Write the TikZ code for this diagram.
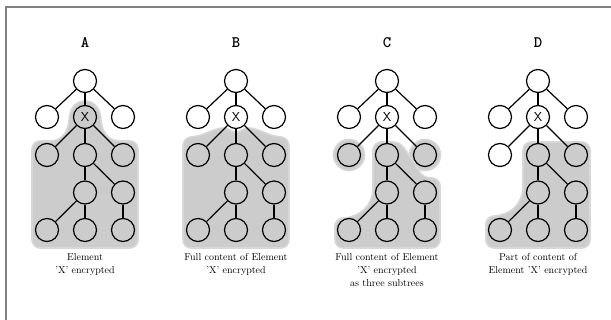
\documentclass[tikz,border=0pt]{standalone}
\usepackage{fontspec}
\begin{document}
\begin{tikzpicture}[x=1pt,y=-1pt,
  nd/.style={circle,draw=black,line width=1.2pt,minimum size=23pt,inner sep=0pt,fill=white,
    font=\sffamily\fontsize{13}{13}\selectfont},
  sh/.style={fill=none},
  link/.style={line width=1.2pt},
  shadebox/.style={fill=shadegray,draw=shaderim,line width=1.6pt},
  ttl/.style={font=\ttfamily\bfseries\fontsize{16}{16}\selectfont},
  captxt/.style={font=\fontsize{10}{13}\selectfont,align=center,anchor=north}]
\definecolor{shadegray}{RGB}{204,204,204}
\definecolor{shaderim}{RGB}{216,216,216}
\definecolor{framegray}{RGB}{128,128,128}
\useasboundingbox (0,0) rectangle (611,320);
\draw[framegray,line width=1.5pt] (6,320) -- (6,7) -- (611,7);

% ---- shaded regions ----
% A
\path[shadebox] (40,248) -- (130,248) .. controls (134.4,248) and (138,244.4) .. (138,240)
  -- (138,149) .. controls (138,144.6) and (134.4,141) .. (130,141) -- (120,141)
  .. controls (108,141) and (102,132) .. (101,120) .. controls (100.5,108) and (94,101) .. (85,101)
  .. controls (76,101) and (69.5,108) .. (69,120) .. controls (68,132) and (62,141) .. (50,141)
  -- (40,141) .. controls (35.6,141) and (32,144.6) .. (32,149) -- (32,240)
  .. controls (32,244.4) and (35.6,248) .. (40,248) -- cycle;
% B
\path[shadebox] (191,248) -- (281,248) .. controls (285.4,248) and (289,244.4) .. (289,240)
  -- (289,146) .. controls (289,141) and (286,138) .. (281,137)
  .. controls (268,136) and (258,128) .. (249,128) .. controls (243,128) and (241,132) .. (236,132)
  .. controls (231,132) and (229,128) .. (223,128) .. controls (214,128) and (204,136) .. (191,137)
  .. controls (186,138) and (183,141) .. (183,146) -- (183,240)
  .. controls (183,244.4) and (186.6,248) .. (191,248) -- cycle;
% C
\path[shadebox] (349,155) circle[radius=15.5];
\path[shadebox] (425,155) circle[radius=15.5];
\path[shadebox] (381,142) -- (393,142) .. controls (400,142) and (403,146) .. (407,152)
  -- (419,171) .. controls (422,176) and (426,178) .. (432,178)
  .. controls (436.4,178) and (440,181.6) .. (440,186) -- (440,240)
  .. controls (440,244.4) and (436.4,248) .. (432,248) -- (343,248)
  .. controls (338.6,248) and (335,244.4) .. (335,240) -- (335,226)
  .. controls (335,221.6) and (338.6,218) .. (343,218)
  .. controls (360,217) and (372,206) .. (373,190) -- (373,150)
  .. controls (373,145.6) and (376.6,142) .. (381,142) -- cycle;
% D
\path[shadebox] (531,142) -- (582,142) .. controls (586.4,142) and (590,145.6) .. (590,150)
  -- (590,240) .. controls (590,244.4) and (586.4,248) .. (582,248) -- (494,248)
  .. controls (489.6,248) and (486,244.4) .. (486,240) -- (486,224)
  .. controls (486,219.6) and (489.6,216) .. (494,216)
  .. controls (510,215) and (522,205) .. (523,188) -- (523,150)
  .. controls (523,145.6) and (526.6,142) .. (531,142) -- cycle;

% ---- trees ----
\newcommand\mktree[3]{%
  \node[nd] (#1r) at (0,81) {};
  \node[nd] (#1a) at (-38,117) {};
  \node[nd,#2] (#1x) at (0,117) {X};
  \node[nd] (#1b) at (38,117) {};
  \node[nd,#3] (#1c) at (-38,155) {};
  \node[nd,sh] (#1d) at (0,155) {};
  \node[nd,sh] (#1e) at (38,155) {};
  \node[nd,sh] (#1f) at (0,192.5) {};
  \node[nd,sh] (#1g) at (38,192.5) {};
  \node[nd,sh] (#1h) at (-38,230) {};
  \node[nd,sh] (#1i) at (0,230) {};
  \node[nd,sh] (#1j) at (38,230) {};
  \draw[link] (#1r) -- (#1a);
  \draw[link] (#1r) -- (#1x);
  \draw[link] (#1r) -- (#1b);
  \draw[link] (#1x) -- (#1c);
  \draw[link] (#1x) -- (#1d);
  \draw[link] (#1x) -- (#1e);
  \draw[link] (#1d) -- (#1f);
  \draw[link] (#1d) -- (#1g);
  \draw[link] (#1f) -- (#1h);
  \draw[link] (#1f) -- (#1i);
  \draw[link] (#1g) -- (#1j);
}
\begin{scope}[xshift=85pt]
  \mktree{A}{sh}{sh}
  \node[ttl] (tA) at (0,43) {A};
  \node[captxt] (cA) at (0,250) {Element\\'X' encrypted};
\end{scope}
\begin{scope}[xshift=236pt]
  \mktree{B}{}{sh}
  \node[ttl] (tB) at (0,43) {B};
  \node[captxt] (cB) at (0,250) {Full content of Element\\'X' encrypted};
\end{scope}
\begin{scope}[xshift=387pt]
  \mktree{C}{}{sh}
  \node[ttl] (tC) at (0,43) {C};
  \node[captxt] (cC) at (0,250) {Full content of Element\\'X' encrypted\\as three subtrees};
\end{scope}
\begin{scope}[xshift=538pt]
  \mktree{D}{}{}
  \node[ttl] (tD) at (0,43) {D};
  \node[captxt] (cD) at (0,250) {Part of content of\\Element 'X' encrypted};
\end{scope}
\end{tikzpicture}
\end{document}
